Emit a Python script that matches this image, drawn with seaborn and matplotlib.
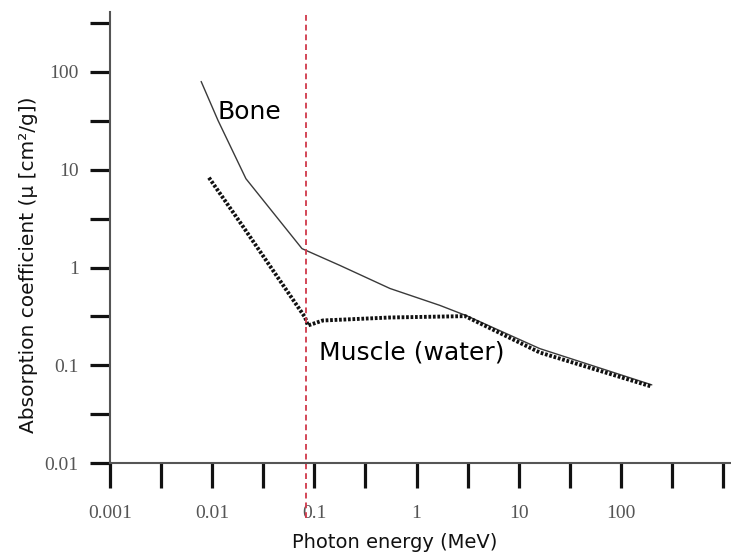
import numpy as np
import pandas as pd
import matplotlib
matplotlib.use("Agg")
import matplotlib.pyplot as plt
import seaborn as sns
from matplotlib.ticker import FixedLocator, NullFormatter

# Mass attenuation coefficients vs photon energy
bone_energy = [0.0078, 0.0114, 0.0214, 0.0757, 0.178, 0.55, 1.69, 3.11, 16.1, 201]
bone_mu = [80, 32, 8.1, 1.56, 1.05, 0.61, 0.41, 0.32, 0.148, 0.063]

muscle_energy = [0.0093, 0.02, 0.081, 0.0865, 0.121, 0.55, 3.0, 16.1, 195]
muscle_mu = [8.3, 2.63, 0.31, 0.255, 0.287, 0.308, 0.318, 0.135, 0.061]

edge_energy = 0.083  # marker line (MeV)

x_major = [0.001, 0.01, 0.1, 1, 10, 100]
x_major_labels = ["0.001", "0.01", "0.1", "1", "10", "100"]
x_minor = [0.00316, 0.0316, 0.316, 3.16, 31.6, 316, 1000]
y_major = [0.01, 0.1, 1, 10, 100]
y_major_labels = ["0.01", "0.1", "1", "10", "100"]
y_minor = [0.0316, 0.316, 3.16, 31.6, 316]

bone_df = pd.DataFrame({"energy": bone_energy, "mu": bone_mu})
muscle_df = pd.DataFrame({"energy": muscle_energy, "mu": muscle_mu})

sns.set_theme(style="white")
plt.rcParams["font.family"] = ["DejaVu Sans"]

W, H = 731, 557
fig = plt.figure(figsize=(W / 100, H / 100), dpi=100)
left, right, bottom, top = 110, 731, 463, 12
ax = fig.add_axes([left / W, (H - bottom) / H, (right - left) / W, (bottom - top) / H])

sns.lineplot(data=bone_df, x="energy", y="mu", ax=ax, color="#3a3a3a",
             linewidth=1.0, estimator=None, sort=False)
sns.lineplot(data=muscle_df, x="energy", y="mu", ax=ax, color="#111111",
             linewidth=2.8, linestyle=(0, (0.7, 0.45)), estimator=None, sort=False)

ax.set_xscale("log")
ax.set_yscale("log")
ax.set_xlim(0.001, 10 ** (3 + 8 / 102.2))
ax.set_ylim(0.01, 10 ** (2 + 60 / 97.75))

ax.axvline(edge_energy, ymin=-0.123, ymax=1.0, clip_on=False,
           color="#d0384a", linewidth=1.3, linestyle=(0, (3.2, 2.2)))

ax.xaxis.set_major_locator(FixedLocator(x_major))
ax.xaxis.set_minor_locator(FixedLocator(x_minor))
ax.set_xticklabels(x_major_labels)
ax.xaxis.set_minor_formatter(NullFormatter())
ax.yaxis.set_major_locator(FixedLocator(y_major))
ax.yaxis.set_minor_locator(FixedLocator(y_minor))
ax.set_yticklabels(y_major_labels)
ax.yaxis.set_minor_formatter(NullFormatter())

for which in ("major", "minor"):
    ax.tick_params(axis="x", which=which, direction="out", length=18,
                   width=2.3, color="#111111", bottom=True, pad=12)
    ax.tick_params(axis="y", which=which, direction="out", length=14.5,
                   width=2.3, color="#111111", left=True, pad=8)

for lab in ax.get_xticklabels() + ax.get_yticklabels():
    lab.set_family(["Liberation Serif"])
    lab.set_fontsize(14)
    lab.set_color("#555555")

for side in ("top", "right"):
    ax.spines[side].set_visible(False)
for side in ("left", "bottom"):
    ax.spines[side].set_color("#555555")
    ax.spines[side].set_linewidth(1.5)

ax.set_xlabel("Photon energy (MeV)", fontsize=14, color="#111111")
ax.set_ylabel("Absorption coefficient (\u03bc [cm\u00b2/g])", fontsize=14.5,
              color="#111111")
ax.xaxis.set_label_coords((395 - left) / (right - left), -(533 - bottom) / (bottom - top))
ax.yaxis.set_label_coords(-(110 - 38) / (right - left), (bottom - 265) / (bottom - top))

ax.text(0.0114, 33, "Bone", fontsize=18, color="#000000", ha="left", va="baseline")
ax.text(0.111, 0.1145, "Muscle (water)", fontsize=18, color="#000000",
        ha="left", va="baseline")

fig.savefig("out.png", dpi=100)
